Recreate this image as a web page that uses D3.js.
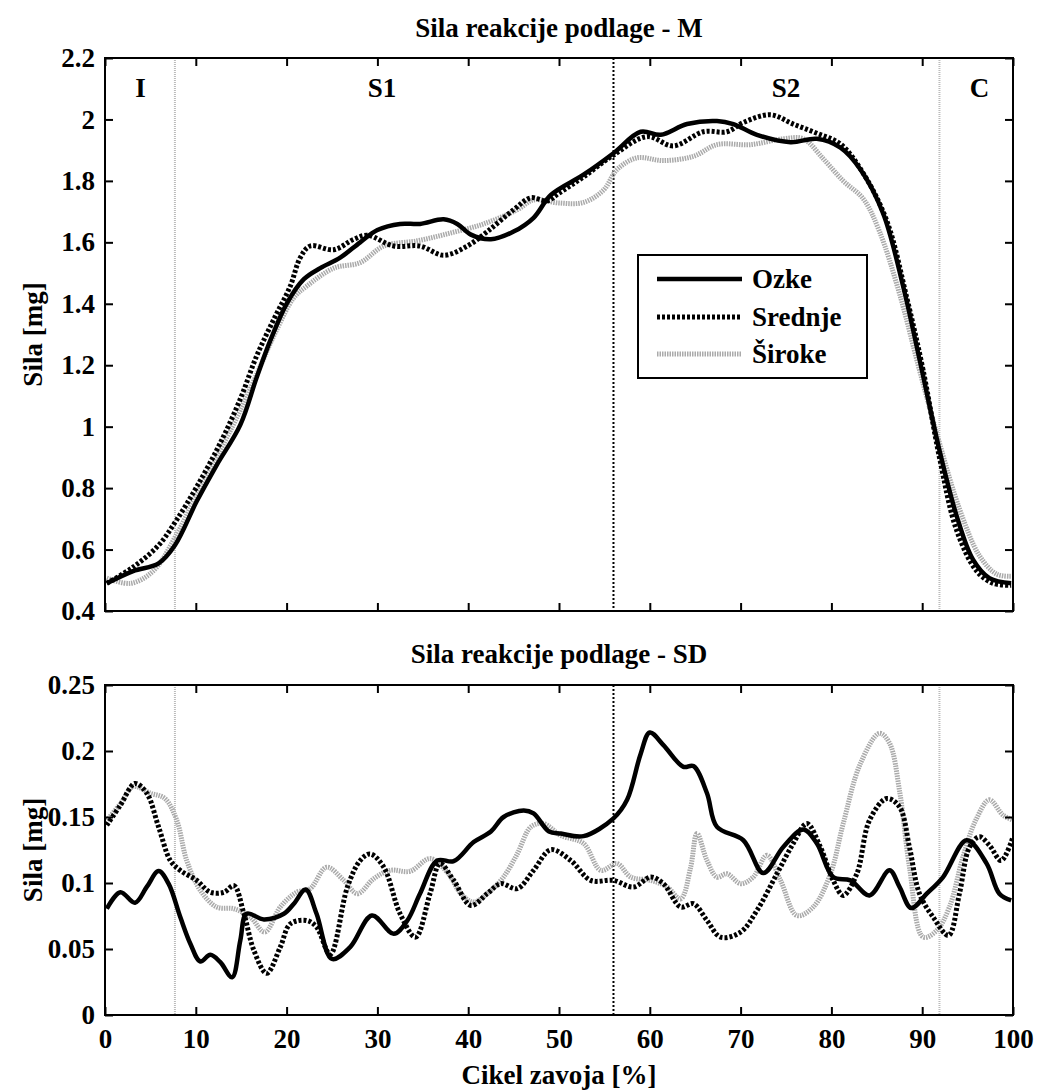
<!DOCTYPE html>
<html>
<head>
<meta charset="utf-8">
<script src="https://cdn.jsdelivr.net/npm/d3@7"></script>
<style>
  html, body { margin: 0; padding: 0; background: #fff; }
  svg { display: block; }
  text { font-family: "Liberation Serif", "Times New Roman", serif; font-weight: bold; fill: #000; }
</style>
</head>
<body>
<svg id="chart" width="1038" height="1091"></svg>
<script>
// ---------------- DATA ----------------
const seriesNames = ["Ozke", "Srednje", "Široke"];
const xTicks = [0, 10, 20, 30, 40, 50, 60, 70, 80, 90, 100];
const topYTicks = [0.4, 0.6, 0.8, 1.0, 1.2, 1.4, 1.6, 1.8, 2.0, 2.2];
const bottomYTicks = [0, 0.05, 0.1, 0.15, 0.2, 0.25];
const phaseBounds = [7.7, 56, 91.9];
const phaseLabels = ["I", "S1", "S2", "C"];
const phaseLabelX = [3.9, 30.5, 75, 96.3];

// Mean (M) curves
const ozkeM_x = [0.2, 3.1, 5.9, 7.7, 10.1, 12.3, 14.9, 16.7, 18.2, 20.0, 21.9, 23.7, 25.9, 28.1, 30.0, 32.5, 34.7, 37.3, 38.8, 40.3, 42.5, 45.0, 47.2, 49.1, 52.7, 56.0, 59.0, 61.2, 64.1, 67.4, 69.2, 71.8, 75.5, 78.4, 81.0, 83.2, 85.7, 87.9, 89.7, 91.9, 93.8, 95.6, 97.4, 99.8];
const ozkeM_y = [0.49, 0.53, 0.555, 0.614, 0.757, 0.875, 1.006, 1.16, 1.28, 1.40, 1.48, 1.516, 1.55, 1.60, 1.64, 1.66, 1.66, 1.675, 1.66, 1.625, 1.61, 1.635, 1.68, 1.754, 1.82, 1.89, 1.96, 1.95, 1.985, 1.995, 1.985, 1.95, 1.926, 1.937, 1.908, 1.837, 1.694, 1.457, 1.22, 0.923, 0.709, 0.567, 0.507, 0.49];
const srednjeM_x = [0.2, 3.1, 5.9, 7.9, 10.1, 12.7, 14.9, 16.7, 18.6, 20.4, 21.5, 22.6, 25.2, 27.4, 28.9, 31.8, 34.7, 37.3, 39.9, 42.1, 45.0, 46.9, 48.7, 50.0, 52.7, 56.0, 59.7, 62.6, 65.9, 68.5, 70.3, 73.3, 75.8, 78.4, 81.0, 83.5, 86.1, 88.3, 90.1, 91.9, 93.8, 96.0, 97.8, 99.8];
const srednjeM_y = [0.49, 0.543, 0.614, 0.697, 0.804, 0.947, 1.09, 1.23, 1.35, 1.457, 1.55, 1.588, 1.576, 1.61, 1.623, 1.588, 1.588, 1.558, 1.588, 1.635, 1.706, 1.745, 1.735, 1.76, 1.813, 1.884, 1.944, 1.914, 1.96, 1.96, 1.99, 2.015, 1.985, 1.955, 1.92, 1.825, 1.67, 1.42, 1.184, 0.9, 0.662, 0.53, 0.49, 0.484];
const sirokeM_x = [0.2, 2.8, 5.3, 7.9, 10.1, 12.7, 14.9, 17.1, 18.9, 20.8, 22.2, 25.2, 28.1, 30.7, 34.4, 38.0, 41.7, 45.4, 47.2, 50.0, 52.7, 54.9, 56.4, 58.6, 61.5, 64.8, 67.4, 71.1, 74.7, 76.9, 79.1, 81.3, 83.5, 85.3, 87.5, 89.7, 91.9, 94.1, 96.3, 98.2, 99.8];
const sirokeM_y = [0.507, 0.49, 0.53, 0.65, 0.78, 0.923, 1.053, 1.196, 1.315, 1.42, 1.457, 1.516, 1.534, 1.588, 1.605, 1.63, 1.66, 1.706, 1.738, 1.728, 1.73, 1.77, 1.837, 1.875, 1.866, 1.88, 1.918, 1.918, 1.937, 1.937, 1.872, 1.80, 1.742, 1.635, 1.433, 1.184, 0.947, 0.733, 0.58, 0.52, 0.513];

// Standard deviation (SD) curves
const ozkeSD_x = [0.2, 1.7, 3.3, 4.6, 5.9, 7.0, 8.3, 9.4, 10.5, 11.6, 12.7, 14.0, 14.9, 15.6, 17.5, 19.7, 20.8, 22.1, 23.3, 25.0, 27.0, 29.4, 31.8, 33.3, 34.7, 36.6, 38.4, 40.6, 42.5, 43.9, 46.1, 47.2, 48.9, 50.2, 52.7, 56.0, 57.5, 59.0, 60.0, 61.5, 63.7, 64.8, 66.3, 67.4, 70.3, 72.5, 74.7, 76.9, 78.4, 80.2, 82.1, 84.2, 86.4, 87.5, 88.8, 90.5, 92.3, 94.9, 97.1, 98.5, 99.8];
const ozkeSD_y = [0.0805, 0.093, 0.085, 0.097, 0.109, 0.0995, 0.074, 0.054, 0.0405, 0.0456, 0.040, 0.0286, 0.0565, 0.0767, 0.0724, 0.0767, 0.0843, 0.095, 0.0767, 0.0425, 0.0514, 0.0754, 0.0615, 0.0716, 0.092, 0.117, 0.1165, 0.131, 0.139, 0.150, 0.155, 0.1527, 0.139, 0.1375, 0.1355, 0.149, 0.163, 0.198, 0.214, 0.2045, 0.188, 0.1886, 0.168, 0.1425, 0.1324, 0.1076, 0.1273, 0.1405, 0.130, 0.1045, 0.102, 0.0906, 0.1096, 0.097, 0.081, 0.0919, 0.1045, 0.1324, 0.1147, 0.0919, 0.0868];
const srednjeSD_x = [0.2, 1.7, 3.3, 4.6, 5.9, 7.2, 8.3, 10.1, 11.6, 13.1, 14.2, 15.3, 16.4, 17.8, 19.3, 20.4, 22.2, 23.3, 24.8, 26.7, 28.1, 29.2, 30.7, 32.5, 34.2, 35.8, 36.9, 38.4, 40.3, 42.1, 43.6, 45.4, 47.2, 49.1, 51.3, 53.5, 56.0, 58.2, 60.1, 61.5, 63.4, 64.8, 66.3, 67.8, 70.0, 71.8, 74.0, 75.8, 77.3, 78.8, 80.2, 81.3, 82.8, 84.2, 86.1, 87.5, 88.6, 89.7, 91.2, 92.9, 94.1, 95.2, 96.3, 97.4, 98.7, 100];
const srednjeSD_y = [0.1438, 0.159, 0.1754, 0.168, 0.1425, 0.117, 0.1095, 0.102, 0.093, 0.093, 0.098, 0.0767, 0.0489, 0.0316, 0.0514, 0.069, 0.0716, 0.0666, 0.046, 0.097, 0.117, 0.122, 0.112, 0.0767, 0.059, 0.092, 0.1147, 0.102, 0.083, 0.092, 0.0995, 0.0957, 0.1096, 0.1252, 0.117, 0.102, 0.102, 0.097, 0.1045, 0.0995, 0.0818, 0.0843, 0.0716, 0.059, 0.0628, 0.0792, 0.107, 0.130, 0.145, 0.127, 0.102, 0.0906, 0.107, 0.1476, 0.164, 0.1577, 0.127, 0.0919, 0.0742, 0.0603, 0.0919, 0.127, 0.135, 0.1286, 0.117, 0.135];
const sirokeSD_x = [0.2, 1.7, 3.1, 5.0, 6.6, 7.9, 9.0, 10.5, 12.3, 14.2, 16.0, 17.6, 19.3, 21.1, 22.6, 24.4, 26.3, 27.8, 29.6, 31.4, 33.6, 35.8, 37.7, 39.2, 40.6, 42.5, 43.9, 45.4, 46.9, 48.3, 50.2, 52.7, 54.6, 56.4, 57.9, 60.1, 61.9, 63.4, 64.5, 65.2, 66.3, 67.4, 68.5, 70.0, 71.4, 72.9, 74.4, 76.2, 78.0, 79.9, 81.3, 83.2, 85.3, 86.4, 87.5, 88.6, 90.1, 91.6, 93.0, 94.5, 95.9, 97.4, 98.9, 100];
const sirokeSD_y = [0.1476, 0.160, 0.173, 0.168, 0.164, 0.1476, 0.117, 0.0944, 0.0818, 0.0805, 0.0742, 0.0628, 0.0818, 0.093, 0.0957, 0.112, 0.102, 0.0919, 0.1033, 0.1096, 0.1089, 0.1185, 0.108, 0.0919, 0.0856, 0.0944, 0.1046, 0.122, 0.1425, 0.145, 0.136, 0.13, 0.1096, 0.1147, 0.1045, 0.102, 0.097, 0.088, 0.112, 0.1375, 0.117, 0.1045, 0.107, 0.0995, 0.1045, 0.121, 0.102, 0.0754, 0.0818, 0.107, 0.145, 0.1906, 0.2134, 0.206, 0.170, 0.112, 0.059, 0.064, 0.0818, 0.12, 0.1476, 0.163, 0.1514, 0.1476];

// ---------------- STYLES ----------------
const styles = {
  "Ozke":    { stroke: "#000", width: 4.5, dash: null },
  "Srednje": { stroke: "#000", width: 5,   dash: "3,2" },
  "Široke":  { stroke: "#aaa", width: 5,   dash: "1.5,1" }
};

const svg = d3.select("#chart");
svg.append("rect").attr("width", 1038).attr("height", 1091).attr("fill", "#fff");

const FS = 27;
const left = 105, right = 1013;
const x = d3.scaleLinear().domain([0, 100]).range([left, right]);

function panel(opts) {
  const { top, bottom, yDomain, yTicks, title, titleY, showXLabels, data, id } = opts;
  const y = d3.scaleLinear().domain(yDomain).range([bottom, top]);
  const g = svg.append("g");

  g.append("clipPath").attr("id", id).append("rect")
    .attr("x", left).attr("y", top).attr("width", right - left).attr("height", bottom - top);

  // phase boundaries
  phaseBounds.forEach((b, i) => {
    g.append("line")
      .attr("x1", x(b)).attr("x2", x(b)).attr("y1", top).attr("y2", bottom)
      .attr("stroke", i === 1 ? "#000" : "#bbb")
      .attr("stroke-width", 2)
      .attr("stroke-dasharray", i === 1 ? "2,2" : "1,1");
  });

  const line = d3.line()
    .x(d => x(d[0])).y(d => y(d[1]))
    .curve(d3.curveCatmullRom.alpha(0.5));

  const lg = g.append("g").attr("clip-path", `url(#${id})`);
  data.slice().reverse().forEach(s => {
    const st = styles[s.name];
    const pts = s.xs.map((v, i) => [v, s.ys[i]]);
    lg.append("path").datum(pts)
      .attr("d", line)
      .attr("fill", "none")
      .attr("stroke", st.stroke)
      .attr("stroke-width", st.width)
      .attr("stroke-dasharray", st.dash)
      .attr("stroke-linejoin", "round");
  });

  // axes (inward ticks)
  const fmt = v => String(+v.toFixed(2));
  const axL = g.append("g").attr("transform", `translate(${left},0)`)
    .call(d3.axisLeft(y).tickValues(yTicks).tickSize(-8).tickPadding(10).tickFormat(fmt));
  const axR = g.append("g").attr("transform", `translate(${right},0)`)
    .call(d3.axisRight(y).tickValues(yTicks).tickSize(-8).tickFormat(""));
  const axB = g.append("g").attr("transform", `translate(0,${bottom})`)
    .call(d3.axisBottom(x).tickValues(xTicks).tickSize(-8).tickPadding(14)
      .tickFormat(showXLabels ? (d => d) : ""));
  const axT = g.append("g").attr("transform", `translate(0,${top})`)
    .call(d3.axisTop(x).tickValues(xTicks).tickSize(-8).tickFormat(""));
  [axL, axR, axB, axT].forEach(a => {
    a.selectAll(".domain").remove();
    a.selectAll(".tick line").attr("stroke", "#000").attr("stroke-width", 2);
    a.selectAll("text").style("font-size", FS + "px")
      .style("font-family", '"Liberation Serif", "Times New Roman", serif')
      .style("font-weight", "bold").attr("fill", "#000");
  });

  // frame
  g.append("rect").attr("x", left).attr("y", top)
    .attr("width", right - left).attr("height", bottom - top)
    .attr("fill", "none").attr("stroke", "#000").attr("stroke-width", 2);

  // title
  g.append("text").attr("x", (left + right) / 2).attr("y", titleY)
    .attr("text-anchor", "middle").style("font-size", FS + "px").text(title);

  // y label
  g.append("text")
    .attr("transform", `translate(42,${(top + bottom) / 2}) rotate(-90)`)
    .attr("text-anchor", "middle").style("font-size", FS + "px").text("Sila [mg]");

  return { g, y };
}

const topPanel = panel({
  id: "clipTop", top: 58, bottom: 611, yDomain: [0.4, 2.2], yTicks: topYTicks,
  title: "Sila reakcije podlage - M", titleY: 37, showXLabels: false,
  data: [
    { name: "Ozke", xs: ozkeM_x, ys: ozkeM_y },
    { name: "Srednje", xs: srednjeM_x, ys: srednjeM_y },
    { name: "Široke", xs: sirokeM_x, ys: sirokeM_y }
  ]
});

const bottomPanel = panel({
  id: "clipBottom", top: 685, bottom: 1015, yDomain: [0, 0.25], yTicks: bottomYTicks,
  title: "Sila reakcije podlage - SD", titleY: 663, showXLabels: true,
  data: [
    { name: "Ozke", xs: ozkeSD_x, ys: ozkeSD_y },
    { name: "Srednje", xs: srednjeSD_x, ys: srednjeSD_y },
    { name: "Široke", xs: sirokeSD_x, ys: sirokeSD_y }
  ]
});

// phase labels in top panel
phaseLabels.forEach((t, i) => {
  topPanel.g.append("text").attr("x", x(phaseLabelX[i])).attr("y", 97)
    .attr("text-anchor", "middle").style("font-size", FS + "px").text(t);
});

// x label
svg.append("text").attr("x", (left + right) / 2).attr("y", 1084)
  .attr("text-anchor", "middle").style("font-size", FS + "px").text("Cikel zavoja [%]");

// legend
const leg = svg.append("g");
leg.append("rect").attr("x", 638).attr("y", 255).attr("width", 229).attr("height", 123)
  .attr("fill", "#fff").attr("stroke", "#000").attr("stroke-width", 2);
const legRows = [279, 317, 354];
seriesNames.forEach((n, i) => {
  const st = styles[n];
  leg.append("line").attr("x1", 657).attr("x2", 742)
    .attr("y1", legRows[i]).attr("y2", legRows[i])
    .attr("stroke", st.stroke).attr("stroke-width", st.width)
    .attr("stroke-dasharray", st.dash);
  leg.append("text").attr("x", 752).attr("y", legRows[i] + 9)
    .style("font-size", FS + "px").text(n);
});
</script>
</body>
</html>
